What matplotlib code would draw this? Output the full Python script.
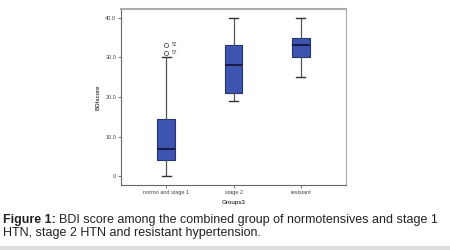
import matplotlib
matplotlib.use("Agg")
import matplotlib.pyplot as plt

# Box statistics (BDI score per group)
groups = ["normo and stage 1", "stage 2", "resistant"]
whislo = [0.0, 19.0, 25.0]
q1 = [4.0, 21.0, 30.0]
med = [7.0, 28.0, 33.0]
q3 = [14.5, 33.0, 35.0]
whishi = [30.0, 40.0, 40.0]
fliers = [[31.2, 33.2], [], []]
outlier_ids = ["57", "52"]

yticks = [0, 10, 20, 30, 40]
ytick_labels = ["0", "10.0", "20.0", "30.0", "40.0"]

plt.rcParams["font.family"] = ["Liberation Sans", "DejaVu Sans"]

fig = plt.figure(figsize=(4.5, 2.5), dpi=100)
ax = fig.add_axes([121 / 450, 1 - 185 / 250, 225 / 450, 176 / 250])

stats = []
for i, g in enumerate(groups):
    stats.append(dict(label=g, whislo=whislo[i], q1=q1[i], med=med[i],
                      q3=q3[i], whishi=whishi[i], fliers=fliers[i]))

ax.bxp(stats, positions=[1, 2, 3], widths=0.26, patch_artist=True,
       boxprops=dict(facecolor="#3d55b0", edgecolor="#26346e", linewidth=0.8),
       medianprops=dict(color="#111133", linewidth=1.2),
       whiskerprops=dict(color="#555555", linewidth=0.9),
       capprops=dict(color="#333333", linewidth=1.0),
       flierprops=dict(marker="o", markersize=3, markerfacecolor="none",
                       markeredgecolor="#555555", markeredgewidth=0.6))

# outlier case numbers
for val, lab in zip(fliers[0], outlier_ids):
    ax.text(1.08, val, lab, fontsize=3.5, color="#444444", va="center")

ax.set_xlim(0.33, 3.67)
ax.set_ylim(-2.2, 42.2)
ax.set_yticks(yticks)
ax.set_yticklabels(ytick_labels)
ax.tick_params(axis="both", labelsize=4, length=2, width=0.5,
               colors="#444444", pad=1.5)
ax.set_ylabel("BDIscore", fontsize=4.5, labelpad=3)
ax.set_xlabel("Groups3", fontsize=4.5, labelpad=4)

ax.spines["left"].set_color("#666666")
ax.spines["bottom"].set_color("#666666")
ax.spines["top"].set_color("#aaaaaa")
ax.spines["right"].set_color("#aaaaaa")
ax.spines["top"].set_linewidth(1.5)
for s in ["left", "bottom", "right"]:
    ax.spines[s].set_linewidth(0.8)

# caption: bold label followed by normal text on the same line
cap_size = 9.0
fig_lbl = fig.text(3 / 450, 1 - 220 / 250, "Figure 1:", fontsize=cap_size,
                   fontweight="bold", color="#222222", va="center")
fig.canvas.draw()
bb = fig_lbl.get_window_extent()
fig.text((bb.x1 + 3) / 450, 1 - 220 / 250,
         "BDI score among the combined group of normotensives and stage 1",
         fontsize=cap_size, color="#222222", va="center")
fig.text(3 / 450, 1 - 233 / 250,
         "HTN, stage 2 HTN and resistant hypertension.",
         fontsize=cap_size, color="#222222", va="center")

# grey rule at the bottom
fig.add_artist(plt.Line2D([0, 1], [0.01, 0.01], color="#dddddd", linewidth=3,
                          transform=fig.transFigure))

fig.savefig("out.png", dpi=100)
